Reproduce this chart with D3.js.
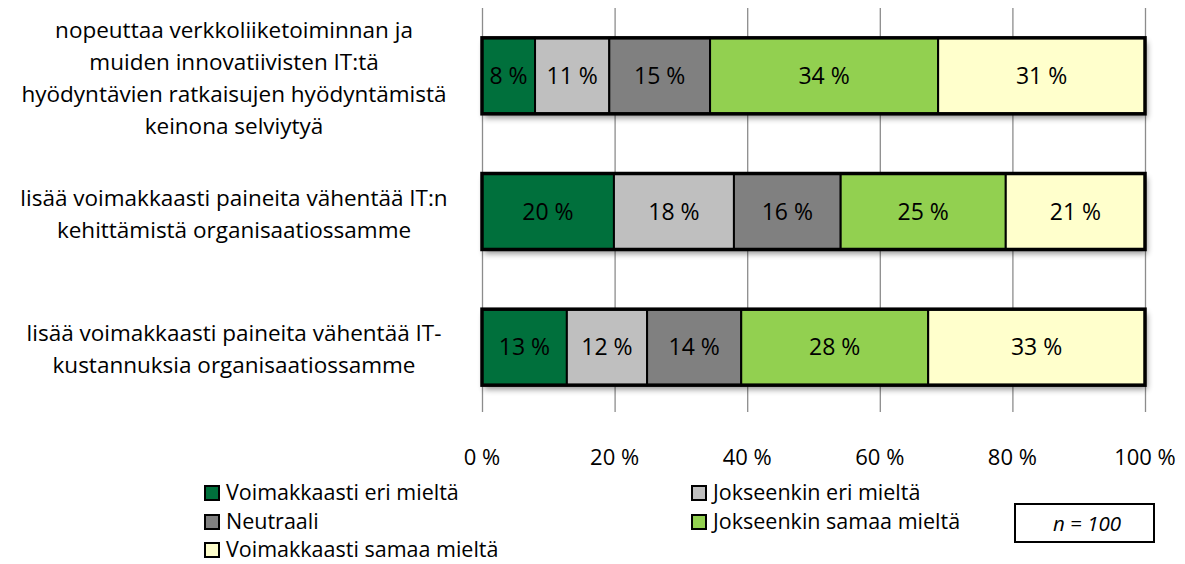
<!DOCTYPE html>
<html><head><meta charset="utf-8">
<script src="https://cdn.jsdelivr.net/npm/d3@7"></script>
<style>body{margin:0;background:#fff}svg{display:block}text{font-family:"Open Sans",Lato,sans-serif}</style>
</head><body>
<svg id="c" width="1185" height="564"></svg>
<script>
const categories = [
  ["nopeuttaa verkkoliiketoiminnan ja","muiden innovatiivisten IT:tä","hyödyntävien ratkaisujen hyödyntämistä","keinona selviytyä"],
  ["lisää voimakkaasti paineita vähentää IT:n","kehittämistä organisaatiossamme"],
  ["lisää voimakkaasti paineita vähentää IT-","kustannuksia organisaatiossamme"]
];
const seriesNames = ["Voimakkaasti eri mieltä","Jokseenkin eri mieltä","Neutraali","Jokseenkin samaa mieltä","Voimakkaasti samaa mieltä"];
const seriesColors = ["#00703C","#BFBFBF","#808080","#92D050","#FFFFCC"];
const values = [
  [8.0, 11.2, 15.2, 34.4, 31.2],
  [19.9, 18.1, 16.1, 24.9, 21.0],
  [12.8, 12.1, 14.2, 28.2, 32.7]
];
const labels = [
  [8, 11, 15, 34, 31],
  [20, 18, 16, 25, 21],
  [13, 12, 14, 28, 33]
];
const ticks = [0, 20, 40, 60, 80, 100];
const note = "n = 100";

const svg = d3.select("#c");
const x = d3.scaleLinear().domain([0,100]).range([482,1145]);
const y = d3.scaleBand().domain(d3.range(categories.length)).range([8,415]).paddingInner(0.44).paddingOuter(0.22);

const defs = svg.append("defs");
const f = defs.append("filter").attr("id","sh").attr("x","-5%").attr("y","-20%").attr("width","110%").attr("height","160%");
f.append("feGaussianBlur").attr("in","SourceAlpha").attr("stdDeviation",3);
f.append("feOffset").attr("dx",2).attr("dy",4).attr("result","b");
f.append("feComponentTransfer").append("feFuncA").attr("type","linear").attr("slope",0.45);
const m = f.append("feMerge"); m.append("feMergeNode"); m.append("feMergeNode").attr("in","SourceGraphic");

// gridlines
svg.append("g").selectAll("line").data(ticks).join("line")
  .attr("x1",d=>x(d)+0.5).attr("x2",d=>x(d)+0.5).attr("y1",8).attr("y2",412)
  .attr("stroke","#8c8c8c").attr("stroke-width",1.3);

// tick labels
svg.append("g").selectAll("text").data(ticks).join("text")
  .attr("x",d=>x(d)).attr("y",465).attr("text-anchor","middle")
  .attr("font-size",22).attr("fill","#000").text(d=>d+" %");

// bars
values.forEach((row,i)=>{
  let cum = 0;
  const segs = row.map((v,j)=>{const s={x0:cum,x1:cum+v,j,v,lab:labels[i][j]};cum+=v;return s;});
  const g = svg.append("g");
  g.append("rect").attr("x",x(0)).attr("y",y(i)).attr("width",x(100)-x(0)).attr("height",y.bandwidth())
    .attr("fill","#fff").attr("filter","url(#sh)");
  g.selectAll("rect.s").data(segs).join("rect").attr("class","s")
    .attr("x",d=>x(d.x0)).attr("y",y(i)).attr("width",d=>x(d.x1)-x(d.x0)).attr("height",y.bandwidth())
    .attr("fill",d=>seriesColors[d.j]).attr("stroke","#000").attr("stroke-width",2);
  g.append("rect").attr("x",x(0)).attr("y",y(i)).attr("width",x(100)-x(0)).attr("height",y.bandwidth())
    .attr("fill","none").attr("stroke","#000").attr("stroke-width",3.5);
  g.selectAll("text").data(segs).join("text")
    .attr("x",d=>(x(d.x0)+x(d.x1))/2).attr("y",y(i)+y.bandwidth()/2+8)
    .attr("text-anchor","middle").attr("font-size",23).attr("fill","#000").text(d=>d.lab+" %");
});

// category labels
categories.forEach((lines,i)=>{
  const cy = y(i)+y.bandwidth()/2;
  const lh = 32;
  const t = svg.append("text").attr("text-anchor","middle").attr("font-size",22.5).attr("fill","#000");
  lines.forEach((l,k)=>{
    t.append("tspan").attr("x",234).attr("y",cy + (k-(lines.length-1)/2)*lh + 10).text(l);
  });
});

// legend
const legPos = [[205,493],[692,493],[205,522],[692,522],[205,550]];
const lg = svg.append("g");
seriesNames.forEach((n,j)=>{
  const [lx,ly] = legPos[j];
  lg.append("rect").attr("x",lx).attr("y",ly-7).attr("width",14).attr("height",14)
    .attr("fill",seriesColors[j]).attr("stroke","#000").attr("stroke-width",2);
  lg.append("text").attr("x",lx+21).attr("y",ly+7).attr("font-size",21.5).attr("fill","#000").text(n);
});

// note box
svg.append("rect").attr("x",1015).attr("y",504).attr("width",139).attr("height",38)
  .attr("fill","#fff").attr("stroke","#000").attr("stroke-width",2);
svg.append("text").attr("x",1087).attr("y",531).attr("text-anchor","middle").attr("font-size",20.5)
  .attr("font-style","italic").text(note);
</script>
</body></html>
